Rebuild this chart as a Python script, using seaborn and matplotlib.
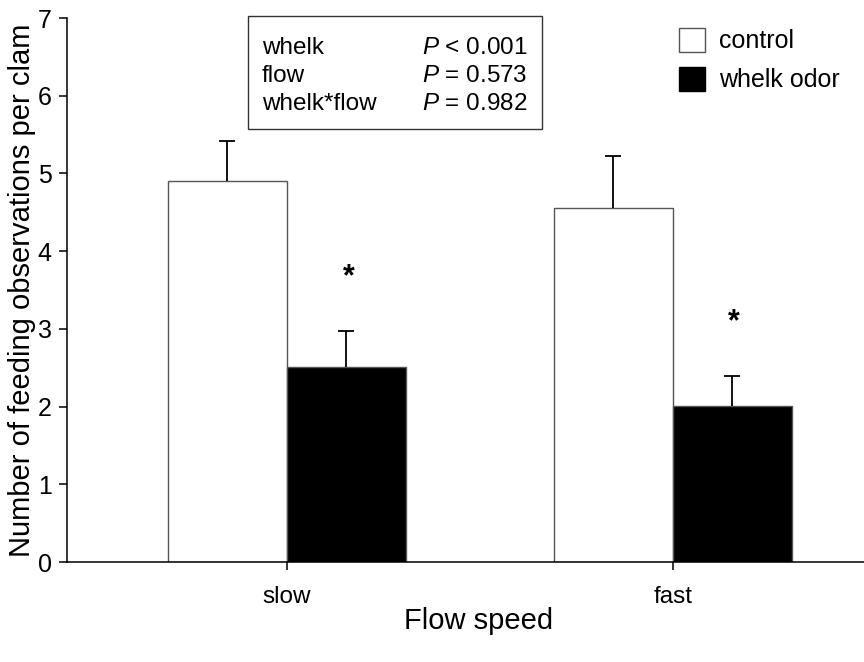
import matplotlib
matplotlib.use("Agg")
import matplotlib.pyplot as plt
from matplotlib.patches import Rectangle, Patch
import numpy as np
import pandas as pd
import seaborn as sns

# Mean feeding observations per clam and upper standard errors
flow_speeds = ["slow", "fast"]
treatments = ["control", "whelk odor"]
control_mean = [4.90, 4.55]
whelk_mean = [2.51, 2.01]
control_se = [0.52, 0.68]
whelk_se = [0.46, 0.38]

# Two-way ANOVA results shown in the inset box
effects = ["whelk", "flow", "whelk*flow"]
p_texts = ["< 0.001", "= 0.573", "= 0.982"]

# Significant differences flagged above the whelk-odor bars
significant = [True, True]

sns.set_style("white")
plt.rcParams["font.family"] = ["Liberation Sans", "DejaVu Sans"]
plt.rcParams["mathtext.fontset"] = "custom"
plt.rcParams["mathtext.it"] = "Liberation Sans:italic"
plt.rcParams["mathtext.rm"] = "Liberation Sans"
for key in ["text.color", "axes.labelcolor", "xtick.color", "ytick.color"]:
    plt.rcParams[key] = "black"

df = pd.DataFrame({
    "Flow speed": flow_speeds * 2,
    "treatment": [treatments[0]] * 2 + [treatments[1]] * 2,
    "mean": control_mean + whelk_mean,
    "se": control_se + whelk_se,
})

W, H, DPI = 864, 662, 100
fig = plt.figure(figsize=(W / DPI, H / DPI), dpi=DPI)
ax = fig.add_axes([67 / W, 1 - 562 / H, 1 - 67 / W, (562 - 18) / H])

sns.barplot(
    data=df, x="Flow speed", y="mean", hue="treatment",
    order=flow_speeds, hue_order=treatments,
    palette={"control": "white", "whelk odor": "black"},
    edgecolor="#555555", linewidth=1.0, width=0.617,
    errorbar=None, legend=False, ax=ax,
)

# Upper-only error bars, and asterisks above the whelk-odor bars
for cont, level in zip(ax.containers, treatments):
    sub = df[df["treatment"] == level].set_index("Flow speed").loc[flow_speeds]
    xs = [p.get_x() + p.get_width() / 2 for p in cont.patches]
    ys = sub["mean"].to_numpy()
    es = sub["se"].to_numpy()
    eb = ax.errorbar(xs, ys, yerr=[np.zeros_like(es), es], fmt="none",
                     ecolor="black", elinewidth=1.3, capsize=6, capthick=1.3, zorder=1)
    # hide the caps that would sit on the bar tops
    eb.lines[1][0].set_visible(False)
    if level == "whelk odor":
        for x, y, e, sig in zip(xs, ys, es, significant):
            if sig:
                ax.text(x + 0.005, y + e + 0.69, "*", ha="center", va="center",
                        fontsize=22, fontweight="bold")

ax.set_xlim(-0.57, 1.496)
ax.set_ylim(0, 7)
ax.set_yticks(range(0, 8))
sns.despine(ax=ax)
for s in ["left", "bottom"]:
    ax.spines[s].set_linewidth(1.1)
    ax.spines[s].set_color("black")
ax.tick_params(axis="y", direction="out", length=6, width=1.1, labelsize=18, pad=5, left=True)
ax.tick_params(axis="x", direction="out", length=6, width=1.1, labelsize=17.5, pad=11, bottom=True)

ax.set_ylabel("Number of feeding observations per clam", fontsize=21)
ax.yaxis.set_label_coords((36 - 67) / (W - 67), 0.5)
ax.set_xlabel("Flow speed", fontsize=21, va="center")
ax.xaxis.set_label_coords((479 - 67) / (W - 67), -(621 - 562) / (562 - 18))

# Legend with square swatches
handles = [Patch(facecolor="white", edgecolor="#555555", linewidth=1.0),
           Patch(facecolor="black", edgecolor="black", linewidth=1.0)]
fig.legend(handles, treatments, loc="upper left",
           bbox_to_anchor=(679 / W, 1 - 28 / H), frameon=False,
           fontsize=18, handlelength=1.05, handleheight=1.08,
           handletextpad=0.55, labelspacing=0.55, borderpad=0, borderaxespad=0)

# Inset box with ANOVA results
fig.patches.append(Rectangle((248 / W, 1 - 129 / H), (542 - 248) / W, (129 - 16) / H,
                             transform=fig.transFigure, facecolor="white",
                             edgecolor="#333333", linewidth=1.0, zorder=5))
baselines = [53.5, 82, 110.5]
for eff, pt, yb in zip(effects, p_texts, baselines):
    fig.text(262 / W, 1 - yb / H, eff, ha="left", va="baseline", fontsize=17.5, zorder=6)
    fig.text(527 / W, 1 - yb / H, r"$\mathit{P}$ " + pt, ha="right", va="baseline",
             fontsize=17.5, zorder=6)

fig.savefig("out.png", dpi=DPI)
